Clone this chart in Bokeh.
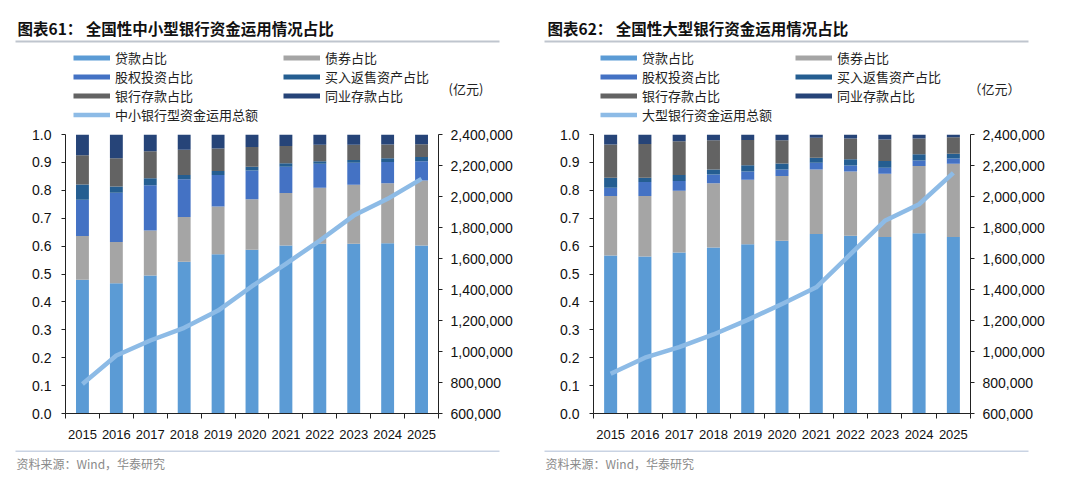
from bokeh.plotting import figure
from bokeh.models import (Range1d, LinearAxis, FixedTicker, PrintfTickFormatter,
                          NumeralTickFormatter, ColumnDataSource, Legend, LegendItem,
                          Label, BoxAnnotation)
from bokeh.layouts import row, column
from bokeh.embed import file_html
from bokeh.resources import INLINE

# ---------------- data ----------------
years = [2015, 2016, 2017, 2018, 2019, 2020, 2021, 2022, 2023, 2024, 2025]

series_names = ["贷款占比", "债券占比", "股权投资占比", "买入返售资产占比", "银行存款占比", "同业存款占比"]

# 全国性中小型银行
mid_loans     = [0.479, 0.467, 0.495, 0.544, 0.571, 0.587, 0.602, 0.608, 0.608, 0.610, 0.602]
mid_bonds     = [0.157, 0.148, 0.161, 0.160, 0.171, 0.181, 0.188, 0.201, 0.212, 0.215, 0.233]
mid_equity    = [0.130, 0.176, 0.162, 0.136, 0.113, 0.103, 0.094, 0.086, 0.079, 0.076, 0.069]
mid_repo      = [0.055, 0.023, 0.025, 0.015, 0.014, 0.013, 0.013, 0.009, 0.010, 0.014, 0.015]
mid_deposits  = [0.105, 0.101, 0.097, 0.090, 0.081, 0.071, 0.062, 0.059, 0.054, 0.049, 0.046]
mid_interbank = [0.074, 0.085, 0.060, 0.055, 0.050, 0.045, 0.041, 0.037, 0.037, 0.036, 0.035]
mid_total     = [790000, 974000, 1071000, 1153000, 1264000, 1421000, 1566000, 1716000, 1877000, 1985000, 2114000]

# 全国性大型银行
big_loans     = [0.566, 0.563, 0.577, 0.595, 0.607, 0.619, 0.643, 0.637, 0.633, 0.646, 0.633]
big_bonds     = [0.214, 0.217, 0.221, 0.230, 0.231, 0.232, 0.232, 0.230, 0.226, 0.241, 0.262]
big_equity    = [0.029, 0.050, 0.035, 0.032, 0.029, 0.024, 0.024, 0.022, 0.022, 0.020, 0.019]
big_repo      = [0.036, 0.015, 0.022, 0.018, 0.023, 0.021, 0.018, 0.022, 0.024, 0.022, 0.017]
big_deposits  = [0.119, 0.121, 0.121, 0.104, 0.090, 0.083, 0.071, 0.075, 0.077, 0.057, 0.059]
big_interbank = [0.036, 0.034, 0.024, 0.021, 0.020, 0.021, 0.012, 0.014, 0.018, 0.014, 0.010]
big_total     = [857000, 960000, 1028000, 1110000, 1204000, 1307000, 1414000, 1628000, 1843000, 1950000, 2153000]

left_ticks = [0.0, 0.1, 0.2, 0.3, 0.4, 0.5, 0.6, 0.7, 0.8, 0.9, 1.0]
right_ticks = [600000, 800000, 1000000, 1200000, 1400000, 1600000, 1800000, 2000000, 2200000, 2400000]

# ---------------- style ----------------
COLORS = ["#5B9BD5", "#A5A5A5", "#4472C4", "#255E91", "#636363", "#264478"]
LINE_COLOR = "#8DBBE6"
CJK = "Noto Sans CJK SC"
LAT = "Liberation Sans"
PW = 536           # panel width
HEAD_H = 128       # header height (page y 0..128)
MAIN_H = 317       # main chart height (page y 128..445)
FOOT_H = 46        # footer height (page y 445..491)
MAIN_TOP, MAIN_BOTTOM = 6, 32
NAN = float("nan")


def blank(h, y0):
    f = figure(width=PW, height=h, output_backend="svg", toolbar_location=None,
               x_range=Range1d(0, PW), y_range=Range1d(y0 + h, y0),
               x_axis_location=None, y_axis_location=None, frame_align=False,
               min_border_left=0, min_border_right=0, min_border_top=0, min_border_bottom=0)
    f.outline_line_color = None
    f.xgrid.visible = False
    f.ygrid.visible = False
    f.background_fill_color = "white"
    f.border_fill_color = "white"
    return f


def make_panel(bl, fw, title, title_x, sep_x, line_label, unit_text, unit_x, leg_x, col_step,
               loans, bonds, equity, repo, deposits, interbank, total):
    # ---------- header ----------
    hd = blank(HEAD_H, 0)
    hd.add_layout(Label(x=title_x, y=27, text=title, text_font=CJK,
                        text_font_size="15.5px", text_font_style="bold",
                        text_color="#111111", text_baseline="middle", text_align="left"))
    hd.add_layout(BoxAnnotation(left=sep_x, right=sep_x + 484, top=40, bottom=42,
                                fill_color="#BFC5CE", fill_alpha=1, line_color=None))
    hd.add_layout(Label(x=unit_x, y=88, text=unit_text, text_font=CJK,
                        text_font_size="13px", text_color="#222222",
                        text_baseline="middle", text_align="left"))
    items = []
    for name, c in zip(series_names, COLORS):
        proxy = hd.line(x=[NAN], y=[NAN], line_color=c, line_width=5)
        items.append(LegendItem(label=name, renderers=[proxy]))
    proxy = hd.line(x=[NAN], y=[NAN], line_color=LINE_COLOR, line_width=4.5)
    items.append(LegendItem(label=line_label, renderers=[proxy]))
    lg = Legend(items=items, location=(leg_x, 4), orientation="horizontal",
                ncols=2, glyph_width=37, glyph_height=19, label_height=19,
                label_width=col_step - 42, label_standoff=5, spacing=0, padding=0,
                margin=0, border_line_color=None, background_fill_alpha=0,
                label_text_font=CJK, label_text_font_size="13px",
                label_text_color="#222222", click_policy="none")
    hd.add_layout(lg, "center")

    # ---------- main chart ----------
    br = PW - bl - fw
    p = figure(width=PW, height=MAIN_H, output_backend="svg", toolbar_location=None,
               x_range=Range1d(2014.5, 2025.5), y_range=Range1d(0, 1), frame_align=False,
               min_border_left=bl, min_border_right=br,
               min_border_top=MAIN_TOP, min_border_bottom=MAIN_BOTTOM)
    p.outline_line_color = None
    p.xgrid.visible = False
    p.ygrid.visible = False
    p.background_fill_color = "white"
    p.border_fill_color = "white"
    p.extra_y_ranges = {"amt": Range1d(600000, 2400000)}

    keys = ["s0", "s1", "s2", "s3", "s4", "s5"]
    src = ColumnDataSource(dict(year=years, s0=loans, s1=bonds, s2=equity, s3=repo,
                                s4=deposits, s5=interbank, total=total))
    p.vbar_stack(keys, x="year", width=0.38, color=COLORS, line_color=None, source=src)
    p.line(x="year", y="total", y_range_name="amt", line_color=LINE_COLOR,
           line_width=4.5, line_join="round", source=src)

    xa = p.xaxis[0]
    xa.ticker = FixedTicker(ticks=years, minor_ticks=[y - 0.5 for y in years] + [2025.5])
    xa.formatter = PrintfTickFormatter(format="%d")
    xa.major_tick_out = 0
    xa.major_tick_in = 0
    xa.minor_tick_out = 5
    xa.minor_tick_in = 0
    xa.major_label_standoff = 11

    ya = p.yaxis[0]
    ya.ticker = FixedTicker(ticks=left_ticks)
    ya.formatter = PrintfTickFormatter(format="%.1f")
    ya.major_tick_out = 4
    ya.major_tick_in = 0
    ya.minor_tick_out = 0
    ya.minor_tick_in = 0
    ya.major_label_standoff = 10

    ra = LinearAxis(y_range_name="amt", ticker=FixedTicker(ticks=right_ticks),
                    formatter=NumeralTickFormatter(format="0,0"))
    ra.major_tick_out = 4
    ra.major_tick_in = 0
    ra.minor_tick_out = 0
    ra.minor_tick_in = 0
    ra.major_label_standoff = 8
    p.add_layout(ra, "right")

    for ax in (xa, ya, ra):
        ax.axis_line_color = "#222222"
        ax.major_tick_line_color = "#222222"
        ax.minor_tick_line_color = "#222222"
        ax.major_label_text_font = LAT
        ax.major_label_text_color = "#111111"
        ax.major_label_text_font_size = "14px"
    xa.major_label_text_font_size = "13px"

    # ---------- footer ----------
    ft = blank(FOOT_H, HEAD_H + MAIN_H)
    ft.add_layout(BoxAnnotation(left=sep_x, right=sep_x + 484, top=450, bottom=451.5,
                                fill_color="#C9D3E3", fill_alpha=1, line_color=None))
    ft.add_layout(Label(x=sep_x + 1, y=463, text="资料来源：Wind，华泰研究",
                        text_font=CJK, text_font_size="12px", text_color="#8a8a8a",
                        text_baseline="middle", text_align="left"))
    return column(hd, p, ft)


left = make_panel(65, 373, "图表61：  全国性中小型银行资金运用情况占比", 17, 15,
                  "中小银行型资金运用总额", "(亿元)", 448, 73, 210,
                  mid_loans, mid_bonds, mid_equity, mid_repo, mid_deposits, mid_interbank, mid_total)
right = make_panel(57, 377, "图表62：  全国性大型银行资金运用情况占比", 11, 8,
                   "大型银行资金运用总额", "（亿元）", 432, 64, 195,
                   big_loans, big_bonds, big_equity, big_repo, big_deposits, big_interbank, big_total)

layout = row(left, right)
open("out.html", "w").write(file_html(layout, INLINE))
